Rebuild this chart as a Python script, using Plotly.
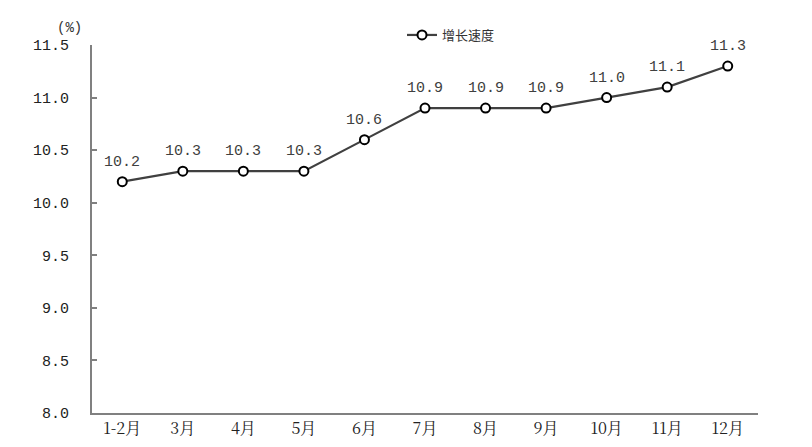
import plotly.graph_objects as go

categories = ["1-2月", "3月", "4月", "5月", "6月", "7月", "8月", "9月", "10月", "11月", "12月"]
growth = [10.2, 10.3, 10.3, 10.3, 10.6, 10.9, 10.9, 10.9, 11.0, 11.1, 11.3]
y_ticks = [8.0, 8.5, 9.0, 9.5, 10.0, 10.5, 11.0, 11.5]
series_name = "增长速度"

FONT = "Liberation Mono, Noto Sans CJK SC, sans-serif"
GREY = "#404040"
# page has an 8px body margin; figure coordinates are page - 8
W, H = 804, 439
L, R, T, B = 84, 54, 37, 34
PW, PH = W - L - R, H - T - B

fig = go.Figure()
fig.add_trace(go.Scatter(
    x=categories, y=growth, name=series_name,
    mode="lines+markers",
    line=dict(color=GREY, width=2.2),
    marker=dict(symbol="circle", size=9, color="white", line=dict(color="black", width=2)),
    cliponaxis=False,
))

annotations = [
    dict(x=c, y=v, text=f"{v:.1f}", xref="x", yref="y", showarrow=False,
         yanchor="bottom", yshift=9,
         font=dict(family=FONT, size=15, color=GREY))
    for c, v in zip(categories, growth)
]
annotations.append(dict(text="(%)", x=(61 - L) / PW, y=(H - B - 20) / PH,
                        xref="paper", yref="paper",
                        xanchor="center", yanchor="middle", showarrow=False,
                        font=dict(family=FONT, size=14, color="#333333")))

fig.update_layout(
    width=W, height=H,
    margin=dict(l=L, r=R, t=T, b=B, autoexpand=False),
    plot_bgcolor="white", paper_bgcolor="white",
    showlegend=True,
    legend=dict(orientation="h", x=(394 - L) / PW, xanchor="left",
                y=(H - B - 27) / PH, yanchor="middle",
                font=dict(family="Noto Sans CJK SC", size=13, color="#333333"),
                bgcolor="rgba(0,0,0,0)"),
    xaxis=dict(
        type="category", range=[-0.5, len(categories) - 0.5],
        showline=True, linecolor="#808080", linewidth=2,
        showgrid=False, ticks="", zeroline=False,
        tickfont=dict(family="Noto Serif CJK SC, Noto Sans CJK SC", size=16, color="#222222"),
    ),
    yaxis=dict(
        range=[8.0, 11.5], tickvals=y_ticks, ticktext=[f"{v:.1f}" for v in y_ticks],
        showline=True, linecolor="#808080", linewidth=2,
        ticks="inside", ticklen=5, tickcolor="#808080", tickwidth=1.5,
        showgrid=False, zeroline=False,
        tickfont=dict(family=FONT, size=15, color="#222222"),
        ticklabelstandoff=18,
    ),
    annotations=annotations,
)
fig.write_html("out.html")
